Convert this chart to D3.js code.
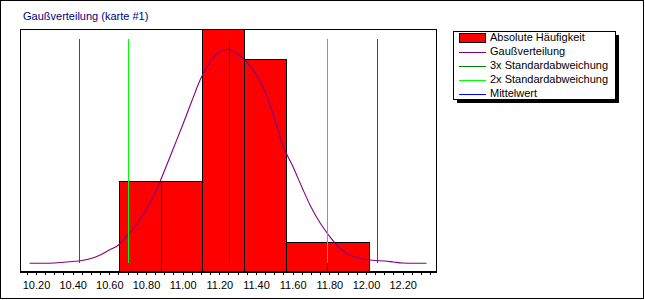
<!DOCTYPE html>
<html><head><meta charset="utf-8">
<script src="https://cdn.jsdelivr.net/npm/d3@7"></script>
<style>
body{margin:0;padding:0;background:#fff;}
svg{display:block;font-family:Arial,"Liberation Sans",sans-serif;}
</style></head>
<body>
<svg id="chart" width="645" height="300"></svg>
<script>
// ---- data ----
const title = "Gaußverteilung (karte #1)";
const binEdges = [10.655, 10.8815, 11.108, 11.3345, 11.561, 11.7875, 12.014];
const binCounts = [3, 3, 8, 7, 1, 1];
const gaussX = [10.165,10.25,10.30,10.35,10.40,10.45,10.50,10.55,10.60,10.65,10.70,10.75,10.80,10.85,10.90,10.95,11.00,11.05,11.10,11.15,11.20,11.25,11.30,11.35,11.40,11.45,11.50,11.55,11.60,11.65,11.70,11.75,11.80,11.85,11.90,11.95,12.00,12.05,12.10,12.15,12.20,12.25,12.33];
const gaussY = [0.311,0.311,0.321,0.344,0.370,0.403,0.469,0.584,0.748,0.911,1.239,1.600,2.059,2.616,3.338,4.092,4.846,5.633,6.387,6.911,7.239,7.328,7.174,6.911,6.518,5.928,5.075,4.125,3.502,2.813,2.157,1.633,1.207,0.846,0.616,0.502,0.436,0.403,0.387,0.354,0.321,0.311,0.311];
const std3Lines = [10.4345, 12.06];
const std2Lines = [10.702, 11.787];
const meanLine = [11.251];
const lineRange = [0.31, 7.665];
const xTicks = [10.2,10.4,10.6,10.8,11.0,11.2,11.4,11.6,11.8,12.0,12.2];
const xMinorTicks = d3.range(0,45).map(i => +(10.15 + i*0.05).toFixed(2));
const legendLabels = ["Absolute Häufigkeit","Gaußverteilung","3x Standardabweichung","2x Standardabweichung","Mittelwert"];
const legendColors = ["#ff0000","#800080","#008000","#00ff00","#0000ff"];

// ---- layout ----
const svg = d3.select("#chart");
const L = 20, T = 29, R = 436, B = 271;
const x = d3.scaleLinear().domain([10.11273, 12.38182]).range([L, R]);
const y = d3.scaleLinear().domain([0, 8]).range([272.8, 28.8]);

// outer border
svg.append("rect").attr("x",0.5).attr("y",0.5).attr("width",643).attr("height",298)
  .attr("fill","#fff").attr("stroke","#000").attr("stroke-width",1).attr("shape-rendering","crispEdges");

// title
svg.append("text").attr("x",23).attr("y",20).attr("fill","#000080")
  .attr("font-size","11px").text(title);

// plot frame background
svg.append("rect").attr("x",L+0.5).attr("y",T+0.5).attr("width",R-L).attr("height",B-T)
  .attr("fill","#fff").attr("stroke","#000").attr("stroke-width",1).attr("shape-rendering","crispEdges");

svg.append("clipPath").attr("id","pc").append("rect")
  .attr("x",L).attr("y",T).attr("width",R-L+1).attr("height",B-T+1);
const g = svg.append("g").attr("clip-path","url(#pc)");

// bars
const bars = binCounts.map((c,i)=>({x0:binEdges[i], x1:binEdges[i+1], c}));
g.selectAll("rect.bar").data(bars).enter().append("rect")
  .attr("class","bar")
  .attr("x", d => Math.round(x(d.x0)) + 0.5)
  .attr("y", d => Math.round(y(d.c)) + 0.5)
  .attr("width", d => Math.round(x(d.x1)) - Math.round(x(d.x0)))
  .attr("height", d => y(0) - Math.round(y(d.c)))
  .attr("fill","#ff0000").attr("stroke","#000").attr("stroke-width",1)
  .attr("shape-rendering","crispEdges");

// gauss curve
const pts = gaussX.map((v,i)=>[v, gaussY[i]]);
g.append("path").datum(pts)
  .attr("d", d3.line().x(d=>x(d[0])).y(d=>y(d[1])).curve(d3.curveMonotoneX))
  .attr("fill","none").attr("stroke","#800080").attr("stroke-width",1.1);

// vertical lines
function vlines(arr, color){
  g.selectAll(null).data(arr).enter().append("line")
    .attr("x1", d => Math.round(x(d))+0.5).attr("x2", d => Math.round(x(d))+0.5)
    .attr("y1", Math.round(y(lineRange[1]))).attr("y2", Math.round(y(lineRange[0])))
    .attr("stroke", color).attr("stroke-width",1).attr("shape-rendering","crispEdges");
}
vlines(std3Lines, "#008000");
vlines(std2Lines, "#00ff00");
vlines(meanLine, "#0000ff");

// x axis
const axMinor = d3.axisBottom(x).tickValues(xMinorTicks).tickSize(4).tickFormat("");
const gm = svg.append("g").attr("transform",`translate(0,${B})`).call(axMinor);
gm.select(".domain").remove();
gm.selectAll(".tick line").attr("stroke","#000").attr("shape-rendering","crispEdges");
const axMajor = d3.axisBottom(x).tickValues(xTicks).tickSize(4).tickPadding(6).tickFormat(d3.format(".2f"));
const ga = svg.append("g").attr("transform",`translate(0,${B})`).call(axMajor);
ga.select(".domain").remove();
ga.selectAll(".tick line").attr("stroke","#000").attr("shape-rendering","crispEdges");
ga.selectAll(".tick text").attr("font-size","11px").attr("fill","#000")
  .attr("font-family","Arial,'Liberation Sans',sans-serif");
svg.append("line").attr("x1",L).attr("x2",R+1).attr("y1",B+0.5).attr("y2",B+0.5)
  .attr("stroke","#000").attr("stroke-width",2).attr("shape-rendering","crispEdges");

// legend
const lg = svg.append("g").attr("shape-rendering","crispEdges");
lg.append("rect").attr("x",457).attr("y",35).attr("width",162).attr("height",68).attr("fill","#000");
lg.append("rect").attr("x",453.5).attr("y",31.5).attr("width",162).attr("height",68)
  .attr("fill","#fff").attr("stroke","#000").attr("stroke-width",1);
const rowY = i => 37.5 + i*14;
legendLabels.forEach((lab,i)=>{
  if(i===0){
    lg.append("rect").attr("x",459.5).attr("y",33.5).attr("width",26).attr("height",9)
      .attr("fill",legendColors[i]).attr("stroke","#000");
  } else {
    lg.append("line").attr("x1",459).attr("x2",486).attr("y1",Math.round(rowY(i))+0.5).attr("y2",Math.round(rowY(i))+0.5)
      .attr("stroke",legendColors[i]).attr("stroke-width",1);
  }
  lg.append("text").attr("x",490).attr("y",rowY(i)).attr("dy","0.35em")
    .attr("font-size","11px").attr("fill","#000").text(lab);
});
</script>
</body></html>
